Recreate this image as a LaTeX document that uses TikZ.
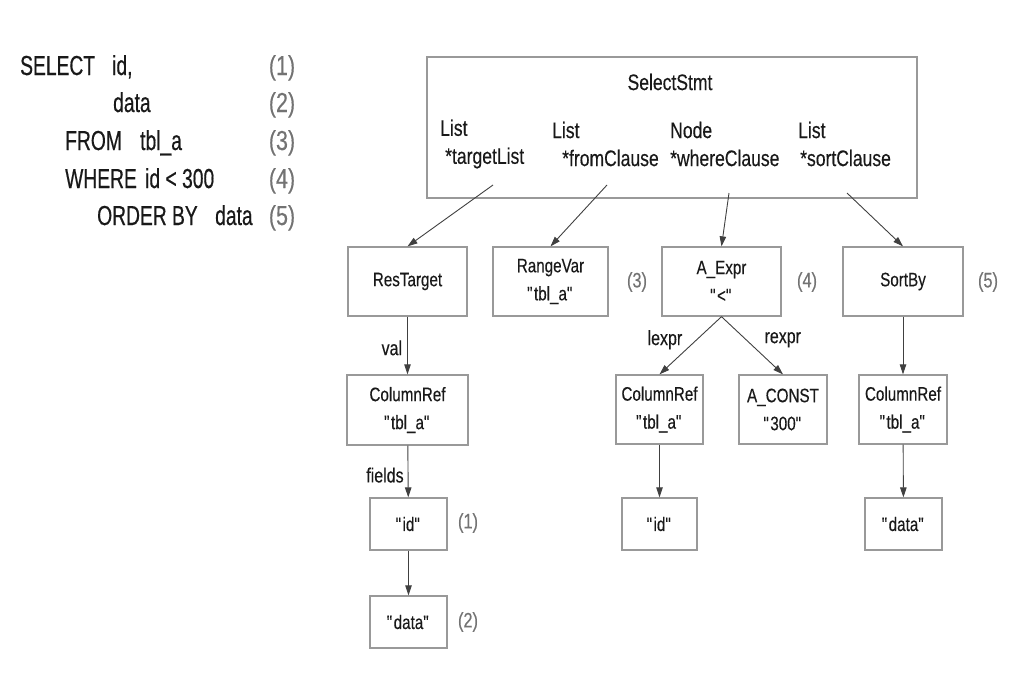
\documentclass[tikz,border=0pt]{standalone}
\usepackage{fontspec}
\setmainfont[FakeStretch=0.78,FakeBold=0.3]{Liberation Sans}
\newfontfamily\sqlfont[FakeStretch=0.7,FakeBold=0.5]{Liberation Sans}
\newcommand{\qt}[1]{\textquotedbl#1\textquotedbl}
\usetikzlibrary{arrows.meta,positioning}

\begin{document}
\begin{tikzpicture}[x=1pt,y=-1pt,
    box/.style={draw=black!40,line width=1.3pt,inner sep=0pt,align=center,text=black!90,
      font=\fontsize{19.5}{28}\selectfont},
    field/.style={anchor=west,inner sep=0pt,align=left,text=black!90,font=\fontsize{22.5}{28}\selectfont},
    sql/.style={anchor=base west,inner sep=0pt,text=black!90,font=\sqlfont\fontsize{27.5}{30}\selectfont},
    num/.style={inner sep=0pt,text=black!55,font=\fontsize{21}{24}\selectfont},
    lbl/.style={inner sep=0pt,text=black!90,font=\fontsize{20.5}{24}\selectfont},
    arr/.style={draw=black!75,line width=0.9pt,-{Triangle[length=10pt,width=6.5pt]}}]
  \useasboundingbox (0,0) rectangle (1017,673);
  % query text
  \node[sql] (sel) at (20,75) {SELECT};
  \node[sql] (selid) at (112,75) {id,};
  \node[sql] (seldata) at (113,112) {data};
  \node[sql] (from) at (65,150) {FROM};
  \node[sql] (fromtbl) at (140,150) {tbl\_a};
  \node[sql] (where) at (65,188) {WHERE};
  \node[sql] (wherecond) at (145,188) {id \textless{} 300};
  \node[sql] (order) at (97,225) {ORDER BY};
  \node[sql] (orderdata) at (215,225) {data};
  \foreach \n/\y in {1/75,2/112,3/150,4/188,5/225}
    \node[sql,anchor=base,text=black!55,font=\fontsize{27.5}{30}\selectfont] (sq\n) at (282,\y) {(\n)};
  % parse tree
  \node[box,minimum width=490pt,minimum height=141pt] (stmt) at (672,127.5) {};
  \node[field,anchor=center] (stmtname) at (670,82) {SelectStmt};
  \node[field] (ftarget) at (440,144) {List\\\hspace*{5pt}*targetList};
  \node[field] (ffrom) at (552,144) {List\\\hspace*{10pt}*fromClause};
  \node[field] (fwhere) at (670,144) {Node\\*whereClause};
  \node[field] (fsort) at (798,144) {List\\\hspace*{2pt}*sortClause};
  \coordinate (ctarget) at (493,185);
  \coordinate (cfrom) at (607,185);
  \coordinate (cwhere) at (729,193);
  \coordinate (csort) at (847,193);

  \node[box,minimum width=119pt,minimum height=69pt] (restarget) at (407.5,281.5) {ResTarget};
  \node[box,minimum width=115pt,minimum height=69pt] (rangevar) at (550.5,281.5) {RangeVar\\\qt{tbl\_a}};
  \node[box,minimum width=119pt,minimum height=69pt] (aexpr) at (721.5,281.5) {A\_Expr\\\qt{\textless}};
  \node[box,minimum width=120pt,minimum height=69pt] (sortby) at (903,281.5) {SortBy};

  \node[box,minimum width=121pt,minimum height=70pt] (colref1) at (407.5,410) {ColumnRef\\\qt{tbl\_a}};
  \node[box,minimum width=87pt,minimum height=69pt] (colref2) at (659.5,409.5) {ColumnRef\\\qt{tbl\_a}};
  \node[box,minimum width=88pt,minimum height=69pt] (aconst) at (783,409.5) {A\_CONST\\\qt{300}};
  \node[box,minimum width=88pt,minimum height=69pt] (colref3) at (903,409.5) {ColumnRef\\\qt{tbl\_a}};

  \node[box,minimum width=77pt,minimum height=52pt] (id1) at (408.5,524) {\qt{id}};
  \node[box,minimum width=75pt,minimum height=52pt] (id2) at (659.5,524) {\qt{id}};
  \node[box,minimum width=77pt,minimum height=52pt] (data3) at (903.5,524) {\qt{data}};
  \node[box,minimum width=77pt,minimum height=52pt] (data1) at (408.5,622) {\qt{data}};

  \node[num] (n1) at (468,523) {(1)};
  \node[num] (n2) at (468,622) {(2)};
  \node[num] (n3) at (637,282) {(3)};
  \node[num] (n4) at (807,282) {(4)};
  \node[num] (n5) at (988,282) {(5)};

  \draw[arr] (ctarget) -- (restarget.north);
  \draw[arr] (cfrom) -- (rangevar.north);
  \draw[arr] (cwhere) -- (aexpr.north);
  \draw[arr] (csort) -- (sortby.north);
  \draw[arr] (restarget) -- node[lbl,left=5pt,pos=0.54] {val} (colref1);
  \draw[arr] (colref1) -- node[lbl,left=4pt,pos=0.57] {fields} (id1);
  \draw[arr] (id1) -- (data1);
  \draw[arr] (aexpr.south) -- node[lbl,left=14pt,pos=0.4] {lexpr} (colref2.north);
  \draw[arr] (aexpr.south) -- node[lbl,right=18pt,pos=0.4] {rexpr} (aconst.north);
  \draw[arr] (colref2) -- (id2);
  \draw[arr] (sortby) -- (colref3);
  \draw[arr] (colref3) -- (data3);
\end{tikzpicture}
\end{document}
